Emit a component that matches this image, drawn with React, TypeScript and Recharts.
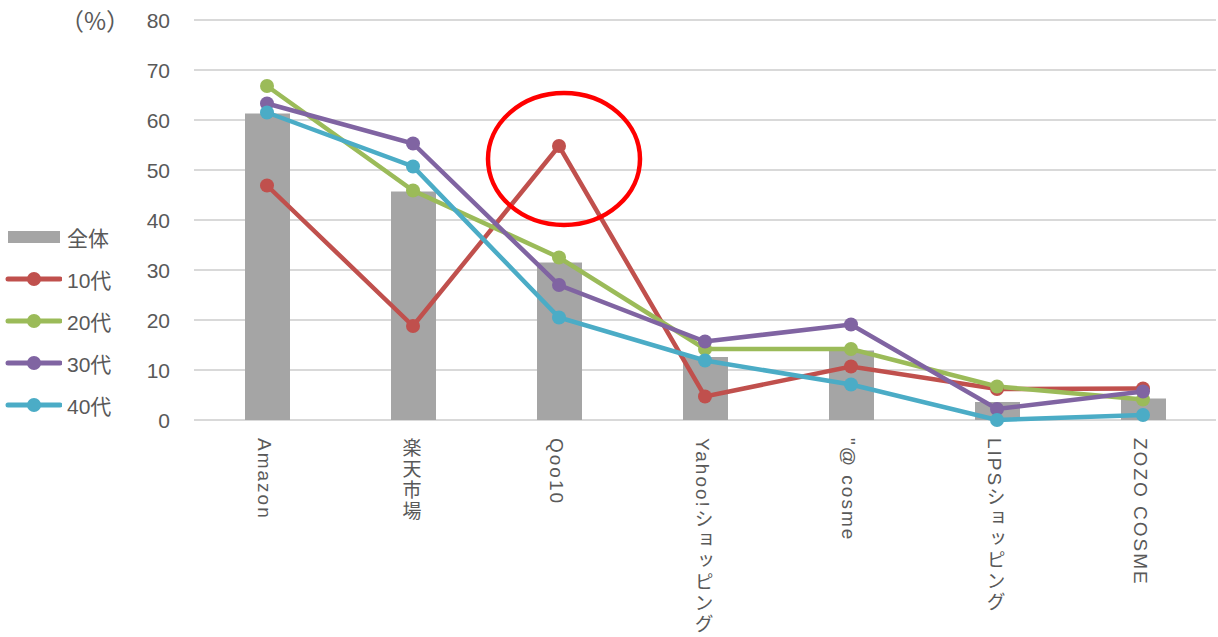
import React from "react";
import {
  ComposedChart, Bar, Line, XAxis, YAxis, CartesianGrid, ReferenceDot,
} from "recharts";

const categories = ["Amazon", "楽天市場", "Qoo10", "Yahoo!ショッピング", "\"@ cosme", "LIPSショッピング", "ZOZO COSME"];
const total = [61.3, 45.7, 31.5, 12.6, 13.9, 3.6, 4.3];
const teens = [46.9, 18.8, 54.8, 4.7, 10.7, 6.2, 6.3];
const twenties = [66.8, 45.9, 32.5, 14.2, 14.2, 6.7, 4.1];
const thirties = [63.3, 55.3, 27.0, 15.7, 19.1, 2.2, 5.7];
const forties = [61.5, 50.7, 20.5, 11.9, 7.1, 0.0, 1.0];
const yTicks = [0, 10, 20, 30, 40, 50, 60, 70, 80];

// highlighted point (Qoo10 / 10代)
const highlight = { x: "Qoo10", y: 52.2 };

const data = categories.map((name, i) => ({
  name, total: total[i], teens: teens[i], twenties: twenties[i], thirties: thirties[i], forties: forties[i],
}));

const lines = [
  { key: "teens", name: "10代", color: "#c0504d" },
  { key: "twenties", name: "20代", color: "#9bbb59" },
  { key: "thirties", name: "30代", color: "#8064a2" },
  { key: "forties", name: "40代", color: "#4bacc6" },
];

const FONT = "'Liberation Sans', Arial, 'Noto Sans CJK JP', sans-serif";
const TEXT = "#595959";

function XTick({ x, y, payload }: any) {
  return (
    <text x={x - 3} y={y + 10} fill={TEXT} fontSize={19} fontFamily={FONT}
      style={{ writingMode: "vertical-rl", letterSpacing: "2px" }} textAnchor="start">
      {payload.value}
    </text>
  );
}

function YTick({ y, payload }: any) {
  return (
    <text x={170} y={y} fill={TEXT} fontSize={21} fontFamily={FONT} textAnchor="end" dominantBaseline="central">
      {payload.value}
    </text>
  );
}

function LegendBox() {
  const row: React.CSSProperties = { display: "flex", alignItems: "center", height: 42 };
  const label: React.CSSProperties = { fontSize: 21, color: TEXT, fontFamily: FONT, marginLeft: 5 };
  return (
    <div>
      <div style={row}>
        <svg width={58} height={20}><rect x={4} y={4} width={52} height={12} fill="#a5a5a5" /></svg>
        <span style={label}>全体</span>
      </div>
      {lines.map((l) => (
        <div key={l.key} style={row}>
          <svg width={58} height={20}>
            <line x1={4} y1={10} x2={56} y2={10} stroke={l.color} strokeWidth={5} strokeLinecap="round" />
            <circle cx={30} cy={10} r={7} fill={l.color} />
          </svg>
          <span style={label}>{l.name}</span>
        </div>
      ))}
    </div>
  );
}

export default function App() {
  return (
    <div style={{ position: "absolute", left: 0, top: 0, width: 1218, height: 637, background: "#fff" }}>
      <div style={{ position: "absolute", left: 0, top: 2, width: 130, textAlign: "right", fontSize: 24, color: TEXT,
        fontFamily: "'Noto Sans CJK JP', sans-serif" }}>（%）</div>
      <div style={{ position: "absolute", left: 4, top: 216 }}><LegendBox /></div>
      <ComposedChart width={1218} height={637} data={data} margin={{ top: 20, right: 2, bottom: 0, left: 0 }}>
        <CartesianGrid vertical={false} stroke="#d9d9d9" strokeWidth={2} />
        <XAxis dataKey="name" tick={<XTick />} tickLine={false} axisLine={false} height={217} interval={0} />
        <YAxis domain={[0, 80]} ticks={yTicks} tick={<YTick />} tickLine={false} axisLine={false} width={194} />
        <Bar dataKey="total" name="全体" fill="#a5a5a5" barSize={45} isAnimationActive={false} />
        {lines.map((l) => (
          <Line key={l.key} dataKey={l.key} name={l.name} stroke={l.color} strokeWidth={4.5}
            dot={{ r: 7, fill: l.color, stroke: l.color, strokeWidth: 0 }} activeDot={false} isAnimationActive={false} />
        ))}
        <ReferenceDot x={highlight.x} y={highlight.y} r={66} ifOverflow="visible"
          shape={(p: any) => <ellipse cx={p.cx + 5} cy={p.cy} rx={76} ry={66} fill="none" stroke="#ff0000" strokeWidth={4.5} />} />
      </ComposedChart>
    </div>
  );
}
